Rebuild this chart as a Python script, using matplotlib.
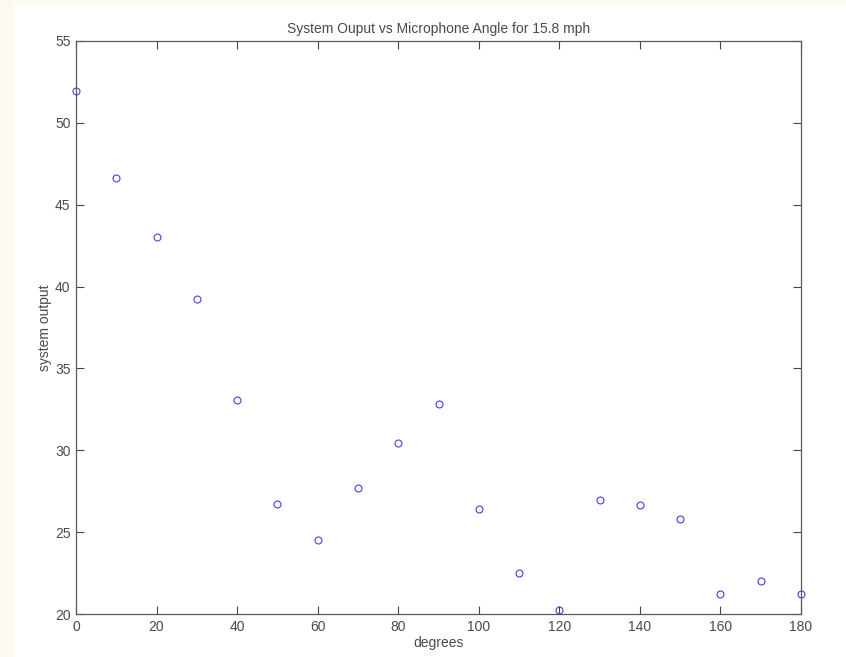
import matplotlib
matplotlib.use("Agg")
import matplotlib.pyplot as plt
from matplotlib.patches import Rectangle

degrees = [0, 10, 20, 30, 40, 50, 60, 70, 80, 90, 100, 110, 120, 130, 140, 150, 160, 170, 180]
system_output = [51.95, 46.65, 43.05, 39.23, 33.09, 26.7, 24.49, 27.72, 30.43, 32.85,
                 26.42, 22.52, 20.24, 26.97, 26.67, 25.79, 21.2, 22.03, 21.2]
xticks = [0, 20, 40, 60, 80, 100, 120, 140, 160, 180]
yticks = [20, 25, 30, 35, 40, 45, 50, 55]

plt.rcParams['font.family'] = ['Liberation Sans', 'DejaVu Sans']
text_color = '#4a4a4a'

fig = plt.figure(figsize=(8.46, 6.57), dpi=100)
fig.patch.set_facecolor('#fef9ee')
fig.patches.append(Rectangle((14/846, 0), 1 - 14/846, 1 - 3/657, transform=fig.transFigure,
                             facecolor='white', edgecolor='none', zorder=-10))

ax = fig.add_axes([76/846, 43/657, (801-76)/846, (614-41)/657])
ax.plot(degrees, system_output, linestyle='none', marker='o', markersize=5,
        markerfacecolor='none', markeredgecolor='#4040e8', markeredgewidth=0.8, clip_on=False)
ax.set_xlim(0, 180)
ax.set_ylim(20, 55)
ax.set_xticks(xticks)
ax.set_yticks(yticks)
ax.tick_params(direction='in', length=6, width=0.8, top=True, right=True,
               labelsize=10, colors='#444444', labelcolor=text_color, pad=4)
for s in ax.spines.values():
    s.set_color('#5a5a5a')
    s.set_linewidth(0.9)
ax.set_title('System Ouput vs Microphone Angle for 15.8 mph', fontsize=10, color=text_color, pad=6)
ax.set_xlabel('degrees', fontsize=10, color=text_color, labelpad=2)
ax.set_ylabel('system output', fontsize=10, color=text_color, labelpad=2)

fig.savefig('out.png', dpi=100, facecolor=fig.get_facecolor())
